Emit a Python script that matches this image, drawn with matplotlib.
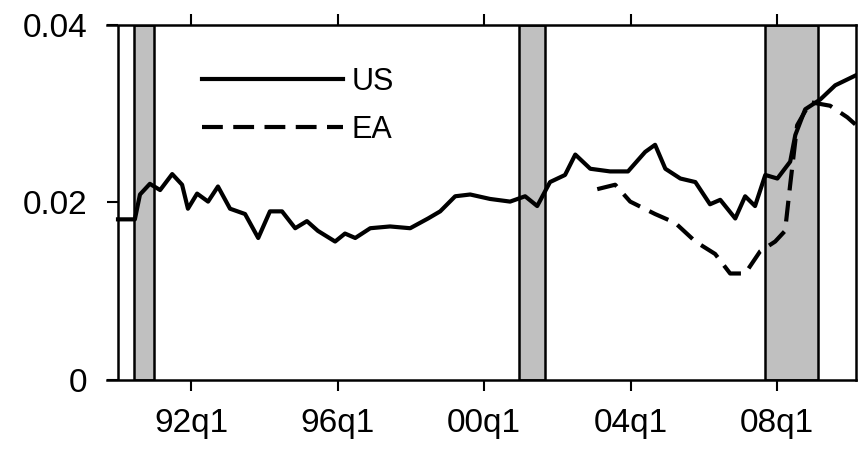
import matplotlib
matplotlib.use("Agg")
import matplotlib.pyplot as plt

us_t = [1990.0,1990.46,1990.60,1990.87,1991.15,1991.48,1991.75,1991.91,1992.16,1992.46,1992.73,1993.06,1993.47,1993.83,
        1994.15,1994.48,1994.84,1995.16,1995.46,1995.93,1996.20,1996.48,1996.89,1997.43,1997.98,1998.47,1998.80,1999.21,
        1999.62,2000.16,2000.71,2001.12,2001.45,2001.80,2002.21,2002.49,2002.90,2003.44,2003.93,2004.40,2004.67,2004.95,
        2005.36,2005.77,2006.17,2006.45,2006.86,2007.13,2007.40,2007.68,2008.01,2008.36,2008.50,2008.77,2009.18,2009.59,2010.14]
us_v = [0.0181,0.0181,0.0209,0.0221,0.0214,0.0232,0.0220,0.0193,0.0210,0.0201,0.0218,0.0193,0.0187,0.0160,
        0.0190,0.0190,0.0171,0.0179,0.0168,0.0156,0.0165,0.0160,0.0171,0.0173,0.0171,0.0182,0.0190,0.0207,
        0.0209,0.0204,0.0201,0.0207,0.0196,0.0223,0.0231,0.0254,0.0238,0.0235,0.0235,0.0257,0.0265,0.0238,
        0.0227,0.0223,0.0198,0.0203,0.0182,0.0207,0.0196,0.0231,0.0227,0.0246,0.0276,0.0305,0.0316,0.0332,0.0343]
ea_t = [2003.09,2003.58,2003.99,2004.67,2005.22,2005.77,2006.31,2006.72,2007.13,2007.54,2007.95,2008.22,2008.36,
        2008.55,2008.91,2009.45,2009.92,2010.14]
ea_v = [0.0215,0.0220,0.0201,0.0187,0.0177,0.0156,0.0142,0.0120,0.0120,0.0145,0.0156,0.0168,0.0220,
        0.0287,0.0313,0.0309,0.0296,0.0288]
recessions = [(1990.44, 1990.98), (2000.96, 2001.67), (2007.68, 2009.13)]
sample_start = 1990.0
tick_pos = [1992, 1996, 2000, 2004, 2008]
tick_lab = ["92q1", "96q1", "00q1", "04q1", "08q1"]
ytick_pos = [0, 0.02, 0.04]
ytick_lab = ["0", "0.02", "0.04"]

plt.rcParams['font.family'] = ['Liberation Sans', 'DejaVu Sans']
fig = plt.figure(figsize=(8.59, 4.54), dpi=100)
ax = fig.add_axes([0.1246, 0.163, 0.872, 0.782])
for a, b in recessions:
    ax.axvspan(a, b, facecolor="#c0c0c0", edgecolor="black", linewidth=1.8)
ax.axvline(sample_start, color="black", lw=1.8)
ax.plot(us_t, us_v, color="black", lw=3.0, label="US")
ax.plot(ea_t, ea_v, color="black", lw=3.0, dashes=(5, 2.5), label="EA")
ax.set_xlim(1989.70, 2010.16)
ax.set_ylim(0, 0.04)
ax.set_xticks(tick_pos, tick_lab)
ax.set_yticks(ytick_pos, ytick_lab)
ax.tick_params(axis="x", labelsize=24, length=8, width=1.5, direction="out", top=True, pad=12)
ax.tick_params(axis="y", labelsize=24, length=8, width=1.5, direction="in", pad=14)
ax.spines["left"].set_visible(False)
for s in ["top", "bottom", "right"]:
    ax.spines[s].set_linewidth(1.8)
leg = ax.legend(loc="upper left", bbox_to_anchor=(0.09, 0.96), frameon=False, fontsize=22,
                handlelength=4.6, labelspacing=0.6, handletextpad=0.3)
fig.savefig("out.png", dpi=100)
